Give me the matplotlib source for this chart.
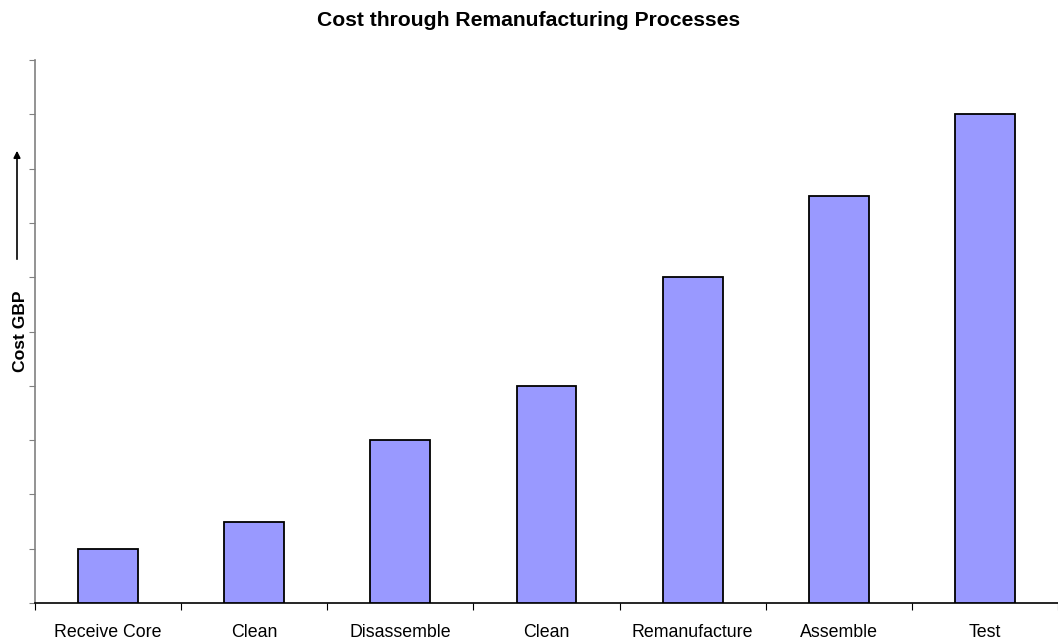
import numpy as np
import matplotlib
matplotlib.use("Agg")
import matplotlib.pyplot as plt

plt.rcParams['font.family'] = ['Liberation Sans', 'DejaVu Sans']

# process steps and their cumulative cost (arbitrary units)
steps = ['Receive Core', 'Clean', 'Disassemble', 'Clean', 'Remanufacture', 'Assemble', 'Test']
cost = [1, 1.5, 3, 4, 6, 7.5, 9]

fig = plt.figure(figsize=(10.58, 6.41), dpi=100)
ax = fig.add_axes([35 / 1058, 1 - 603 / 641, 1 - 35 / 1058, (603 - 60) / 641])

x = np.arange(len(steps))
ax.bar(x, cost, width=0.41, color='#9999FF', edgecolor='black', linewidth=1.3, zorder=3)

ax.set_xlim(-0.5, len(steps) - 0.5)
ax.set_ylim(0, 10)
ax.set_yticks(np.arange(0, 11, 1))
ax.set_yticklabels([])
ax.set_xticks(np.arange(-0.5, len(steps) - 0.4, 1))
ax.set_xticklabels([])
ax.set_xticks(x, minor=True)
ax.set_xticklabels(steps, minor=True, fontsize=12.8)
ax.tick_params(axis='x', which='minor', length=0, pad=15)
ax.tick_params(axis='x', which='major', length=5, color='black', direction='out')
ax.tick_params(axis='y', length=4, color='#808080', direction='out')

for s in ['top', 'right']:
    ax.spines[s].set_visible(False)
ax.spines['left'].set_color('#808080')
ax.spines['left'].set_linewidth(1.2)
ax.spines['bottom'].set_color('black')
ax.spines['bottom'].set_linewidth(1.2)

fig.text(0.5, 1 - 20 / 641, 'Cost through Remanufacturing Processes',
         ha='center', va='center', fontsize=15.2, fontweight='bold')
fig.text(21 / 1058, 1 - 331 / 641, 'Cost GBP', rotation=90,
         ha='center', va='center', fontsize=12.6, fontweight='bold')
fig.patches.append(matplotlib.patches.FancyArrowPatch(
    (17 / 1058, 1 - 262 / 641), (17 / 1058, 1 - 148 / 641),
    transform=fig.transFigure, arrowstyle='-|>', mutation_scale=10,
    color='black', linewidth=1.2))

fig.savefig('out.png', dpi=100)
